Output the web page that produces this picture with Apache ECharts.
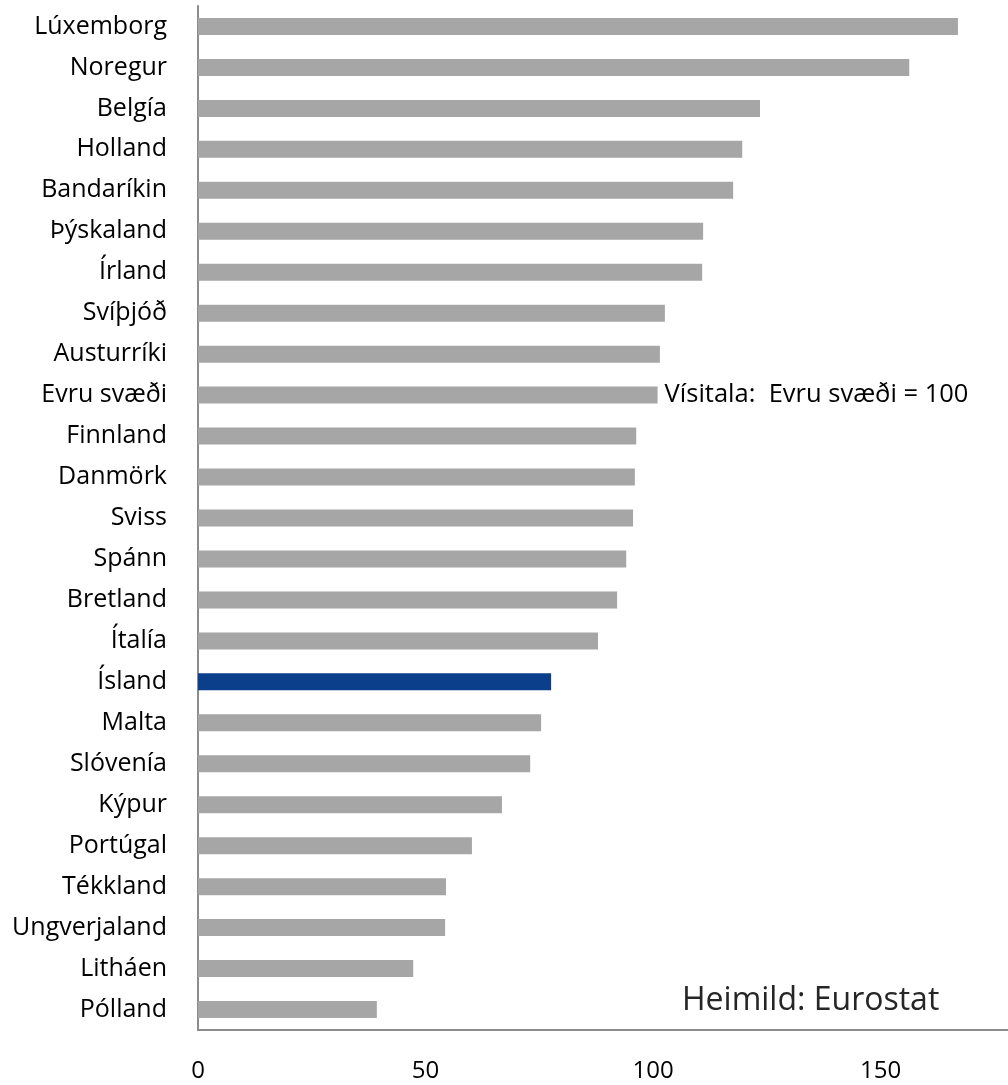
<!DOCTYPE html>
<html>
<head>
<meta charset="utf-8">
<script src="https://cdn.jsdelivr.net/npm/echarts@6/dist/echarts.min.js"></script>
<style>
  html, body { margin: 0; padding: 0; background: #fff; }
  #chart { width: 1008px; height: 1085px; }
</style>
</head>
<body>
<div id="chart"></div>
<script>
// Verðlag landa, vísitala: Evru svæði = 100
const countries = [
  'Lúxemborg', 'Noregur', 'Belgía', 'Holland', 'Bandaríkin', 'Þýskaland', 'Írland',
  'Svíþjóð', 'Austurríki', 'Evru svæði', 'Finnland', 'Danmörk', 'Sviss', 'Spánn',
  'Bretland', 'Ítalía', 'Ísland', 'Malta', 'Slóvenía', 'Kýpur', 'Portúgal',
  'Tékkland', 'Ungverjaland', 'Litháen', 'Pólland'
];
const values = [
  167.0, 156.3, 123.5, 119.6, 117.6, 111.0, 110.8,
  102.6, 101.5, 101.0, 96.3, 96.0, 95.6, 94.1,
  92.1, 87.9, 77.6, 75.4, 73.0, 66.8, 60.2,
  54.5, 54.3, 47.3, 39.3
];
const xTicks = [0, 50, 100, 150];

const highlight = 'Ísland';
const reference = 'Evru svæði';

const chart = echarts.init(document.getElementById('chart'));

const data = countries.map((name, i) => {
  const item = { value: values[i] };
  if (name === highlight) {
    item.itemStyle = { color: '#0b3f8b' };
  }
  if (name === reference) {
    item.label = {
      show: true,
      position: 'right',
      distance: 7,
      formatter: 'Vísitala:  Evru svæði = 100',
      fontSize: 25.5,
      fontFamily: 'Open Sans',
      color: '#000'
    };
  }
  return item;
});

chart.setOption({
  animation: false,
  backgroundColor: '#fff',
  grid: { left: 198, right: 0, top: 6, bottom: 55 },
  xAxis: {
    type: 'value',
    min: 0,
    max: 178,
    interval: 50,
    axisLine: { show: true, lineStyle: { color: '#8c8c8c', width: 2 } },
    axisTick: { show: false },
    splitLine: { show: false },
    axisLabel: {
      margin: 29,
      fontSize: 24,
      fontFamily: 'Open Sans',
      color: '#000',
      showMaxLabel: false,
      formatter: v => (xTicks.includes(v) ? String(v) : '')
    }
  },
  yAxis: {
    type: 'category',
    inverse: true,
    data: countries,
    axisLine: { show: true, lineStyle: { color: '#8c8c8c', width: 2 } },
    axisTick: { show: false },
    axisLabel: {
      margin: 31,
      fontSize: 25,
      fontFamily: 'Open Sans',
      color: '#000'
    }
  },
  graphic: [{
    type: 'text',
    left: 682,
    top: 985,
    style: {
      text: 'Heimild: Eurostat',
      fontSize: 32,
      fontFamily: 'Open Sans',
      fill: '#262626'
    }
  }],
  series: [{
    type: 'bar',
    data: data,
    barWidth: 17,
    itemStyle: { color: '#a6a6a6' }
  }]
});
</script>
</body>
</html>
